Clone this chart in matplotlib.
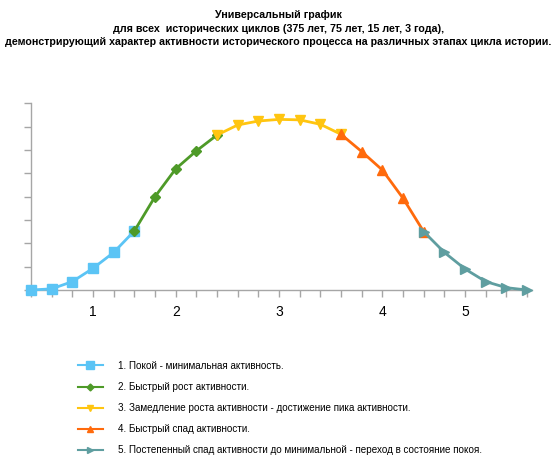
import numpy as np
import matplotlib
matplotlib.use("Agg")
import matplotlib.pyplot as plt

plt.rcParams['font.family'] = ['Liberation Sans', 'DejaVu Sans']

# ДАННЫЕ
activity = [0.0, 0.05, 0.36, 0.93, 1.61, 2.53, 4.0, 5.19, 5.96, 6.64,
            7.07, 7.24, 7.31, 7.29, 7.1, 6.67, 5.93, 5.14, 3.93, 2.5,
            1.61, 0.9, 0.36, 0.1, 0.0]
# границы этапов (индексы точек, включительно)
stage_start = [0, 5, 9, 15, 19]
stage_end = [5, 9, 15, 19, 24]
stage_names = [
    "1. Покой - минимальная активность.",
    "2. Быстрый рост активности.",
    "3. Замедление роста активности - достижение пика активности.",
    "4. Быстрый спад активности.",
    "5. Постепенный спад активности до минимальной - переход в состояние покоя.",
]
stage_colors = ["#5BC4F5", "#4E9A28", "#FFC510", "#FF6A0C", "#5F9EA0"]
stage_markers = ["s", "D", "v", "^", ">"]
marker_sizes = [7.5, 5, 6.5, 7, 7]

label_pos = [3, 7, 12, 17, 21]
label_text = ["1", "2", "3", "4", "5"]

x = np.arange(len(activity))
y = np.array(activity)

fig = plt.figure(figsize=(5.57, 4.58), dpi=100)
ax = fig.add_axes([0.0557, 0.3668, 0.8998, 0.4077])

for i in range(5):
    s, e = stage_start[i], stage_end[i]
    ax.plot(x[s:e + 1], y[s:e + 1], color=stage_colors[i], lw=2,
            marker=stage_markers[i], ms=marker_sizes[i],
            label=stage_names[i], clip_on=False, zorder=3 + i)

ax.set_xlim(0, 24.25)
ax.set_ylim(0, 8)
ax.set_yticks(range(9))
ax.set_yticklabels([])
ticks_lab = [""] * len(activity)
for p, t in zip(label_pos, label_text):
    ticks_lab[p] = t
ax.set_xticks(x)
ax.set_xticklabels(ticks_lab, fontsize=10)

for side in ["top", "right"]:
    ax.spines[side].set_visible(False)
for side in ["left", "bottom"]:
    ax.spines[side].set_color("#A6A6A6")
    ax.spines[side].set_linewidth(1)
ax.tick_params(axis="both", colors="#A6A6A6", length=5, width=1,
               labelcolor="black")
ax.tick_params(axis="x", pad=6)

title_lines = [
    "Универсальный график",
    "для всех  исторических циклов (375 лет, 75 лет, 15 лет, 3 года),",
    "демонстрирующий характер активности исторического процесса на различных этапах цикла истории.",
]
for k, t in enumerate(title_lines):
    fig.text(0.5, 1 - (15 + 13.5 * k) / 458, t, ha="center", va="center",
             fontsize=7.65, fontweight="bold")

leg = fig.legend(loc="upper left", bbox_to_anchor=(0.131, 1 - 356 / 458),
                 frameon=False, fontsize=7.1, handlelength=2.5,
                 labelspacing=1.12, borderpad=0, handletextpad=1.6,
                 markerscale=0.7)
for line in leg.get_lines():
    line.set_linewidth(1.5)

fig.savefig("out.png", dpi=100)
